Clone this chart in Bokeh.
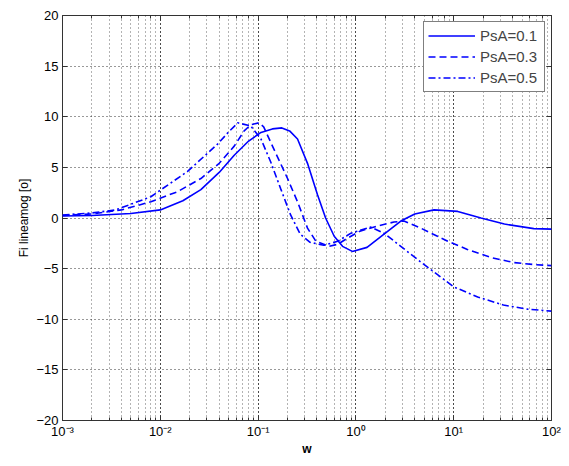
from bokeh.plotting import figure
from bokeh.models import (Range1d, SingleIntervalTicker, CustomJSTickFormatter, Legend,
                          LegendItem, LinearAxis, LogAxis, LogTicker)
from bokeh.embed import file_html
from bokeh.resources import INLINE

# ---- data ----
w_a = [0.001, 0.002, 0.005, 0.01, 0.017, 0.026, 0.04, 0.057, 0.08, 0.107, 0.14, 0.175,
       0.21, 0.253, 0.32, 0.405, 0.49, 0.6, 0.73, 0.92, 1.3, 1.94, 2.88, 4.0, 6.3, 11,
       19, 33, 66, 100]
fi_a = [0.2, 0.25, 0.45, 0.8, 1.7, 2.8, 4.5, 6.2, 7.6, 8.45, 8.8, 8.9,
        8.6, 7.8, 5.4, 2.3, 0.0, -1.8, -2.8, -3.3, -2.9, -1.6, -0.3, 0.4, 0.8, 0.65,
        0.0, -0.6, -1.05, -1.1]

w_b = [0.001, 0.002, 0.004, 0.008, 0.015, 0.026, 0.04, 0.057, 0.072, 0.084, 0.102,
       0.114, 0.145, 0.2, 0.253, 0.32, 0.39, 0.53, 0.65, 0.82, 1.1, 1.64, 2.45, 3.1,
       4.6, 8.7, 13.8, 24, 41, 66, 100]
fi_b = [0.25, 0.4, 0.8, 1.6, 2.6, 3.9, 5.4, 7.1, 8.6, 9.2, 9.4,
        9.0, 6.8, 3.9, 1.6, -1.0, -2.3, -2.8, -2.6, -2.0, -1.3, -0.8, -0.4, -0.3,
        -1.0, -2.3, -3.1, -3.9, -4.4, -4.6, -4.7]

w_c = [0.001, 0.002, 0.0035, 0.008, 0.019, 0.0385, 0.05, 0.062, 0.084, 0.107, 0.135,
       0.17, 0.215, 0.27, 0.34, 0.47, 0.65, 0.89, 1.3, 1.42, 1.94, 2.88, 4.4, 10,
       17.6, 32.2, 57, 100]
fi_c = [0.3, 0.5, 0.8, 2.1, 4.6, 7.3, 8.5, 9.4, 9.1, 7.8, 5.5,
        2.9, 0.3, -1.6, -2.4, -2.7, -2.3, -1.5, -1.0, -0.9, -1.5, -2.8, -4.2, -6.8,
        -7.8, -8.6, -9.0, -9.2]

labels = ["PsA=0.1", "PsA=0.3", "PsA=0.5"]
y_ticks_step = 5

FONT = "Liberation Sans"
BLUE = "#0000ff"
EDGE = "#333333"

p = figure(width=561, height=458, x_axis_type="log",
           x_range=Range1d(1e-3, 1e2), y_range=Range1d(-20, 20),
           output_backend="svg", toolbar_location=None,
           min_border_left=62, min_border_right=10, min_border_top=15, min_border_bottom=32)

p.outline_line_color = EDGE
p.outline_line_width = 1
p.background_fill_color = "white"
p.border_fill_color = "white"

r1 = p.line(w_a, fi_a, line_color=BLUE, line_width=1.6)
r2 = p.line(w_b, fi_b, line_color=BLUE, line_width=1.6, line_dash="7 4")
r3 = p.line(w_c, fi_c, line_color=BLUE, line_width=1.6, line_dash="7 3 2 3")

# axes
p.yaxis.ticker = SingleIntervalTicker(interval=y_ticks_step, num_minor_ticks=0)
p.xaxis.formatter = CustomJSTickFormatter(code="""
const sup = {'-':'\u207b','0':'\u2070','1':'\u00b9','2':'\u00b2','3':'\u00b3','4':'\u2074',
             '5':'\u2075','6':'\u2076','7':'\u2077','8':'\u2078','9':'\u2079'};
const e = String(Math.round(Math.log10(tick)));
let s = '';
for (const c of e) s += sup[c];
return '10' + s;
""")
for ax in (p.xaxis[0], p.yaxis[0]):
    ax.axis_line_color = None
    ax.major_tick_in = 5
    ax.major_tick_out = 0
    ax.minor_tick_in = 3
    ax.minor_tick_out = 0
    ax.major_tick_line_color = EDGE
    ax.minor_tick_line_color = EDGE
    ax.major_label_text_font = FONT
    ax.major_label_text_font_size = "13px"
    ax.major_label_text_color = "black"
    ax.axis_label_text_font = FONT
    ax.axis_label_text_font_size = "12px"
    ax.axis_label_text_font_style = "normal"
    ax.axis_label_text_color = "black"
    ax.major_label_standoff = 3
    ax.axis_label_standoff = 2
p.yaxis.minor_tick_line_color = None
p.yaxis.major_label_standoff = 4
p.xaxis.axis_label = "w"
p.xaxis.axis_label_text_font_style = "bold"
p.xaxis.axis_label_standoff = 0
p.yaxis.axis_label = "Fi lineamog [o]"

# mirrored ticks on the top and right edges (no labels)
top_ax = LogAxis(ticker=LogTicker())
right_ax = LinearAxis(ticker=SingleIntervalTicker(interval=y_ticks_step, num_minor_ticks=0))
for ax in (top_ax, right_ax):
    ax.axis_line_color = None
    ax.major_tick_in = 5
    ax.major_tick_out = 0
    ax.minor_tick_in = 3
    ax.minor_tick_out = 0
    ax.major_tick_line_color = EDGE
    ax.minor_tick_line_color = EDGE
    ax.major_label_text_color = None
    ax.major_label_text_font_size = "1px"
    ax.major_label_standoff = 0
right_ax.minor_tick_line_color = None
p.add_layout(top_ax, "above")
p.add_layout(right_ax, "right")

# grid
p.xgrid.grid_line_color = "black"
p.xgrid.grid_line_dash = "1 3"
p.xgrid.grid_line_alpha = 0.8
p.xgrid.minor_grid_line_color = "black"
p.xgrid.minor_grid_line_dash = "1 3"
p.xgrid.minor_grid_line_alpha = 0.6
p.ygrid.grid_line_color = "black"
p.ygrid.grid_line_dash = "1 3"
p.ygrid.grid_line_alpha = 0.8

legend = Legend(items=[LegendItem(label=labels[0], renderers=[r1]),
                       LegendItem(label=labels[1], renderers=[r2]),
                       LegendItem(label=labels[2], renderers=[r3])],
                location="top_right")
legend.label_text_font = FONT
legend.label_text_font_size = "15px"
legend.glyph_width = 47
legend.glyph_height = 19
legend.label_height = 19
legend.label_width = 60
legend.label_standoff = 5
legend.spacing = 2
legend.padding = 4
legend.margin = 6
legend.border_line_color = "black"
legend.border_line_width = 1
legend.background_fill_alpha = 1
p.add_layout(legend)

open("out.html", "w").write(file_html(p, INLINE))
